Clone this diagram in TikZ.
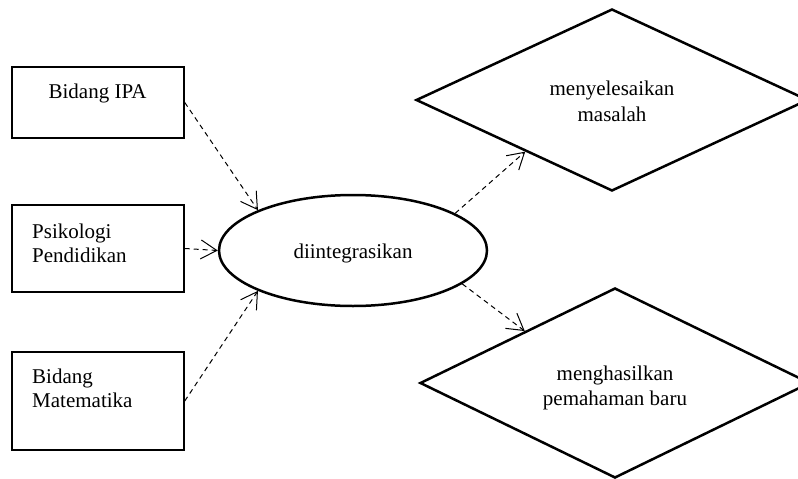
\documentclass[tikz,border=0pt]{standalone}
\usepackage{fontspec}
\setmainfont{Liberation Serif}
\usetikzlibrary{shapes.geometric,arrows.meta,calc}
\begin{document}
\begin{tikzpicture}[x=1pt,y=-1pt,
  box/.style={draw,line width=1.5pt,minimum width=172pt,inner sep=0pt},
  txt/.style={font=\fontsize{21}{24}\selectfont,inner sep=0pt,anchor=base},
  oval/.style={ellipse,draw,line width=2.5pt,minimum width=268pt,minimum height=111pt,inner sep=0pt},
  dia/.style={diamond,draw,line width=2.5pt,inner sep=0pt},
  link/.style={line width=1pt,dash pattern=on 5pt off 4pt,-{Straight Barb[length=16pt,width=19pt,line width=1pt]}}
]
\useasboundingbox (0,0) rectangle (798,479);
\node[box,minimum height=71pt] (b1) at (98,102.5) {};
\node[box,minimum height=87pt] (b2) at (98,248.5) {};
\node[box,minimum height=98pt] (b3) at (98,401) {};
\node[txt] (t1) at (97.5,98) {Bidang IPA};
\node[txt,align=left,anchor=base west] (t2) at (32,262) {Psikologi\\Pendidikan};
\node[txt,align=left,anchor=base west] (t3) at (32,407) {Bidang\\Matematika};
\node[oval] (e) at (353,250.5) {};
\node[txt] (te) at (353,258) {diintegrasikan};
\node[dia,minimum width=392pt,minimum height=182pt] (d1) at (612,100) {};
\node[dia,minimum width=390pt,minimum height=190pt] (d2) at (615,383) {};
\node[txt,align=center,font=\fontsize{21}{26}\selectfont] (td1) at (612,121) {menyelesaikan\\masalah};
\node[txt,align=center,font=\fontsize{21}{25}\selectfont] (td2) at (615,405) {menghasilkan\\pemahaman baru};
\draw[link] (b1.east) -- (e.157);
\draw[link] (b2.east) -- (e.west);
\draw[link] (b3.east) -- (e.203);
\draw[link] (e.20) -- ($(d1.west)!0.56!(d1.south)$);
\draw[link] (e.343) -- ($(d2.west)!0.54!(d2.north)$);
\end{tikzpicture}
\end{document}
